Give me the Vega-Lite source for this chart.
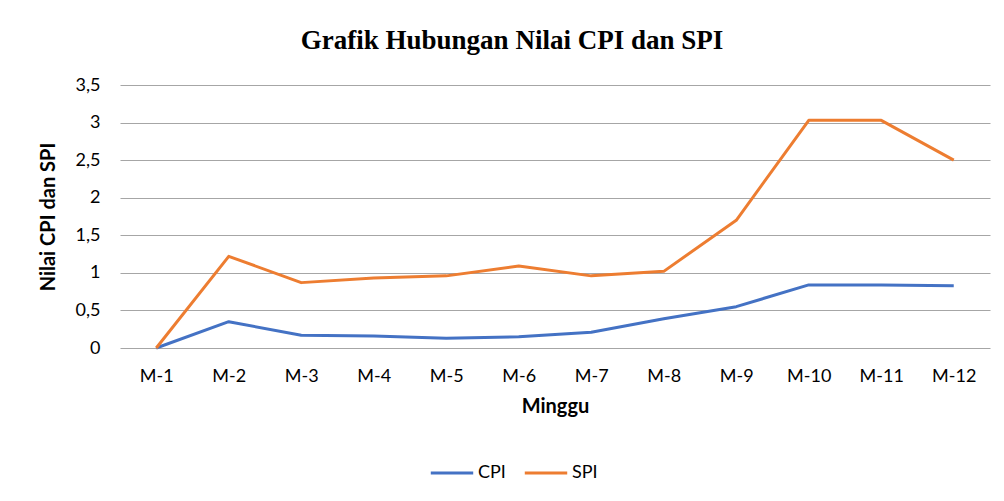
{
  "$schema": "https://vega.github.io/schema/vega-lite/v6.json",
  "width": 870,
  "height": 263,
  "autosize": {"type": "none"},
  "padding": {"left": 120, "top": 85, "right": 14, "bottom": 153},
  "background": "white",
  "title": {
    "text": "Grafik Hubungan Nilai CPI dan SPI",
    "font": "Liberation Serif",
    "fontSize": 27,
    "fontWeight": "bold",
    "color": "#000000",
    "anchor": "middle",
    "dx": -43,
    "offset": 21
  },
  "data": {
    "values": [
      {"minggu": "M-1", "seri": "CPI", "nilai": 0},
      {"minggu": "M-2", "seri": "CPI", "nilai": 0.35},
      {"minggu": "M-3", "seri": "CPI", "nilai": 0.17},
      {"minggu": "M-4", "seri": "CPI", "nilai": 0.16},
      {"minggu": "M-5", "seri": "CPI", "nilai": 0.13},
      {"minggu": "M-6", "seri": "CPI", "nilai": 0.15},
      {"minggu": "M-7", "seri": "CPI", "nilai": 0.21},
      {"minggu": "M-8", "seri": "CPI", "nilai": 0.39},
      {"minggu": "M-9", "seri": "CPI", "nilai": 0.55},
      {"minggu": "M-10", "seri": "CPI", "nilai": 0.84},
      {"minggu": "M-11", "seri": "CPI", "nilai": 0.84},
      {"minggu": "M-12", "seri": "CPI", "nilai": 0.83},
      {"minggu": "M-1", "seri": "SPI", "nilai": 0},
      {"minggu": "M-2", "seri": "SPI", "nilai": 1.22},
      {"minggu": "M-3", "seri": "SPI", "nilai": 0.87},
      {"minggu": "M-4", "seri": "SPI", "nilai": 0.93},
      {"minggu": "M-5", "seri": "SPI", "nilai": 0.96},
      {"minggu": "M-6", "seri": "SPI", "nilai": 1.09},
      {"minggu": "M-7", "seri": "SPI", "nilai": 0.96},
      {"minggu": "M-8", "seri": "SPI", "nilai": 1.02},
      {"minggu": "M-9", "seri": "SPI", "nilai": 1.70},
      {"minggu": "M-10", "seri": "SPI", "nilai": 3.03},
      {"minggu": "M-11", "seri": "SPI", "nilai": 3.03},
      {"minggu": "M-12", "seri": "SPI", "nilai": 2.50}
    ]
  },
  "mark": {"type": "line", "strokeWidth": 3, "strokeJoin": "round"},
  "encoding": {
    "x": {
      "field": "minggu",
      "type": "ordinal",
      "sort": null,
      "scale": {"type": "point", "padding": 0.5},
      "axis": {
        "title": "Minggu",
        "titleFont": "Lato",
        "titleFontSize": 20,
        "titleFontWeight": "bold",
        "titleColor": "#000000",
        "titlePadding": 11,
        "labelFont": "Lato",
        "labelFontSize": 18,
        "labelColor": "#000000",
        "labelAngle": 0,
        "labelPadding": 19,
        "ticks": false,
        "domain": false,
        "grid": false
      }
    },
    "y": {
      "field": "nilai",
      "type": "quantitative",
      "scale": {"domain": [0, 3.5], "nice": false},
      "axis": {
        "title": "Nilai CPI dan SPI",
        "titleFont": "Lato",
        "titleFontSize": 20,
        "titleFontWeight": "bold",
        "titleColor": "#000000",
        "titlePadding": 17,
        "labelFont": "Lato",
        "labelFontSize": 18,
        "labelColor": "#000000",
        "labelPadding": 20,
        "values": [0, 0.5, 1, 1.5, 2, 2.5, 3, 3.5],
        "format": "~g",
        "labelExpr": "replace(datum.label, '.', ',')",
        "ticks": false,
        "domain": false,
        "grid": true,
        "gridColor": "#a6a6a6",
        "gridWidth": 1.2
      }
    },
    "color": {
      "field": "seri",
      "type": "nominal",
      "scale": {"domain": ["CPI", "SPI"], "range": ["#4472C4", "#ED7D31"]},
      "legend": {
        "title": null,
        "orient": "none",
        "direction": "horizontal",
        "legendX": 309,
        "legendY": 365,
        "symbolType": "stroke",
        "symbolStrokeWidth": 3,
        "symbolSize": 1800,
        "labelFont": "Lato",
        "labelFontSize": 18,
        "labelColor": "#000000",
        "labelOffset": 3,
        "columnPadding": 12
      }
    }
  },
  "config": {"view": {"stroke": null}}
}
